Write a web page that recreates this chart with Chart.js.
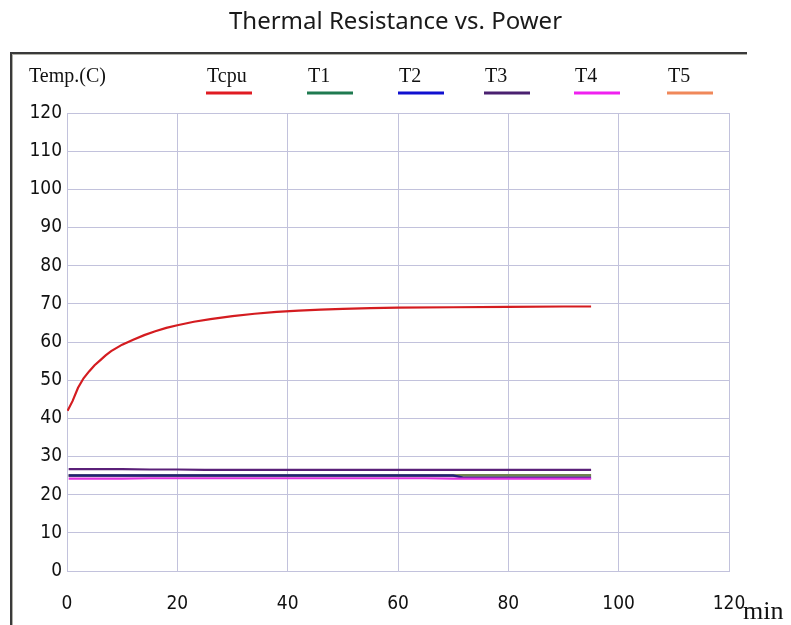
<!DOCTYPE html>
<html>
<head>
<meta charset="utf-8">
<script src="https://cdn.jsdelivr.net/npm/chart.js@4.4.1/dist/chart.umd.min.js"></script>
<style>
  html, body { margin: 0; padding: 0; background: #fff; }
  #wrap { position: relative; width: 791px; height: 625px; overflow: hidden; }
  #panel {
    position: absolute; left: 10px; top: 52px; width: 735px; height: 600px;
    border-top: 2px solid #3a3a3a; border-left: 2px solid #3a3a3a;
    box-shadow: inset 1px 1px 0 #b0b0a8;
  }
  #chart { position: absolute; left: 0; top: 0; }
</style>
</head>
<body>
<div id="wrap">
  <div id="panel"></div>
  <canvas id="chart" width="791" height="625"></canvas>
</div>
<script>
// Tcpu curve (minutes, degrees C)
const cpuTime = [0.1, 1, 2, 3, 4, 5, 6, 7, 8, 10, 12, 14, 16, 18, 20, 23, 26, 30, 34, 38, 42, 46, 50, 55, 60, 70, 80, 90, 95];
const cpuTemp = [42.0, 44.5, 48.0, 50.5, 52.3, 53.9, 55.2, 56.5, 57.6, 59.3, 60.6, 61.8, 62.8, 63.7, 64.4, 65.3, 66.0, 66.8, 67.4, 67.9, 68.2, 68.5, 68.7, 68.9, 69.0, 69.1, 69.2, 69.3, 69.3];

// sensor lines T1..T5
const lowTime = [0.3, 5, 10, 15, 20, 25, 30, 35, 40, 45, 50, 55, 60, 65, 70, 72, 75, 80, 85, 90, 95];
const t1Temp = [25.0, 25.0, 25.0, 25.0, 25.0, 25.0, 25.0, 25.0, 25.0, 25.0, 25.0, 25.0, 25.0, 25.0, 25.0, 25.1, 25.1, 25.1, 25.1, 25.1, 25.1];
const t2Temp = [25.0, 25.0, 25.0, 25.0, 25.0, 25.0, 25.0, 25.0, 25.0, 25.0, 25.0, 25.0, 25.0, 25.0, 25.0, 24.4, 24.4, 24.4, 24.4, 24.4, 24.4];
const t3Temp = [26.7, 26.7, 26.7, 26.6, 26.6, 26.5, 26.5, 26.5, 26.5, 26.5, 26.5, 26.5, 26.5, 26.5, 26.5, 26.5, 26.5, 26.5, 26.5, 26.5, 26.5];
const t4Temp = [24.2, 24.2, 24.2, 24.3, 24.3, 24.3, 24.3, 24.3, 24.3, 24.3, 24.3, 24.3, 24.3, 24.3, 24.2, 24.2, 24.2, 24.2, 24.2, 24.2, 24.2];
const t5Temp = [25.0, 25.0, 25.0, 25.0, 25.0, 25.0, 25.0, 25.0, 25.0, 25.0, 25.0, 25.0, 25.0, 25.0, 25.0, 25.1, 25.1, 25.1, 25.1, 25.1, 25.1];

const seriesNames = ['Tcpu', 'T1', 'T2', 'T3', 'T4', 'T5'];
const yTicks = [0, 10, 20, 30, 40, 50, 60, 70, 80, 90, 100, 110, 120];
const xTicks = [0, 20, 40, 60, 80, 100, 120];

const pts = (xs, ys) => xs.map((x, i) => ({ x: x, y: ys[i] }));

const serif = '"Liberation Serif", "Times New Roman", serif';
const tickFont = '"DejaVu Sans Condensed", "DejaVu Sans", sans-serif';

// legend positions (text start x) as in the original window
const legendX = [207, 308, 399, 485, 575, 668];

const panelText = {
    id: 'panelText',
    afterDraw(chart) {
        const ctx = chart.ctx;
        ctx.save();
        ctx.fillStyle = '#111';
        ctx.textBaseline = 'alphabetic';
        ctx.textAlign = 'left';
        ctx.font = '20px ' + serif;
        ctx.fillText('Temp.(C)', 29, 82);

        chart.data.datasets.forEach((ds, i) => {
            const x = legendX[i];
            ctx.fillStyle = '#111';
            ctx.fillText(ds.label, x, 82);
            ctx.strokeStyle = ds.legendColor;
            ctx.lineWidth = 3;
            ctx.beginPath();
            ctx.moveTo(x - 1, 93);
            ctx.lineTo(x + 45, 93);
            ctx.stroke();
        });

        ctx.fillStyle = '#111';
        ctx.font = '26px ' + serif;
        ctx.fillText('min', 743, 619);
        ctx.restore();
    }
};

new Chart(document.getElementById('chart'), {
    type: 'line',
    data: {
        datasets: [
            { label: seriesNames[0], data: pts(cpuTime, cpuTemp), borderColor: '#d41c20', legendColor: '#e01b22', borderWidth: 2.2, order: 0 },
            { label: seriesNames[1], data: pts(lowTime, t1Temp), borderColor: 'rgba(30,122,78,0.6)', legendColor: '#1f7a50', borderWidth: 2.5, order: 4 },
            { label: seriesNames[2], data: pts(lowTime, t2Temp), borderColor: '#22207a', legendColor: '#1010d0', borderWidth: 2.5, order: 3 },
            { label: seriesNames[3], data: pts(lowTime, t3Temp), borderColor: '#5a2078', legendColor: '#4a2070', borderWidth: 2.2, order: 2 },
            { label: seriesNames[4], data: pts(lowTime, t4Temp), borderColor: '#e030e0', legendColor: '#f020f0', borderWidth: 2.2, order: 1 },
            { label: seriesNames[5], data: pts(lowTime, t5Temp), borderColor: '#e89050', legendColor: '#f0885a', borderWidth: 2.5, order: 5 }
        ]
    },
    options: {
        responsive: false,
        animation: false,
        elements: {
            point: { radius: 0 },
            line: { tension: 0 }
        },
        layout: { padding: 0 },
        plugins: {
            legend: { display: false },
            tooltip: { enabled: false },
            title: {
                display: true,
                text: 'Thermal Resistance vs. Power',
                color: '#1a1a1a',
                font: { family: '"Noto Sans", sans-serif', size: 24, weight: 'normal' },
                padding: { top: 8, bottom: 76.2 }
            }
        },
        scales: {
            x: {
                type: 'linear',
                min: 0,
                max: 120,
                afterBuildTicks: (scale) => { scale.ticks = xTicks.map(v => ({ value: v })); },
                afterFit: (scale) => { scale.height = 54; },
                grid: { color: '#c2c2dc', drawTicks: false },
                border: { color: '#c2c2dc' },
                ticks: { color: '#111', padding: 22, maxRotation: 0, font: { family: tickFont, size: 19 } }
            },
            y: {
                min: 0,
                max: 120,
                afterBuildTicks: (scale) => { scale.ticks = yTicks.map(v => ({ value: v })); },
                afterFit: (scale) => { scale.width = 67; },
                grid: { color: '#c2c2dc', drawTicks: false },
                border: { color: '#c2c2dc' },
                ticks: { color: '#111', padding: 5, font: { family: tickFont, size: 19 } }
            },
            // empty right-hand strip (room for the last tick and "min")
            yRight: {
                position: 'right',
                min: 0,
                max: 120,
                afterFit: (scale) => { scale.width = 62; },
                grid: { display: false, drawOnChartArea: false },
                border: { display: false },
                ticks: { display: false }
            }
        }
    },
    plugins: [panelText]
});
</script>
</body>
</html>
